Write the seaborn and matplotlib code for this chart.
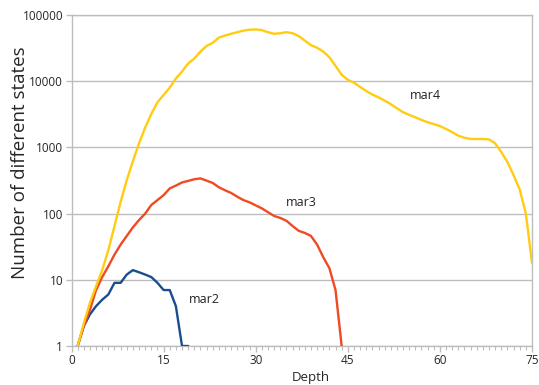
import numpy as np
import pandas as pd
import matplotlib
matplotlib.use("Agg")
import matplotlib.pyplot as plt
import seaborn as sns
from matplotlib.ticker import FixedLocator, MultipleLocator, NullLocator

# ---- data ----
mar2_depth = list(range(1, 20))
mar2_states = [1, 2, 3, 4, 5, 6, 9, 9, 12, 14, 13, 12, 11, 9, 7, 7, 4, 1, 1]

mar3_depth = list(range(1, 45))
mar3_states = [1, 2, 3.5, 7, 11, 16, 24, 34, 46, 62, 80, 100, 135, 160, 190,
               240, 265, 295, 312, 330, 340, 315, 290, 250, 225, 205, 180, 160,
               148, 133, 120, 105, 92, 86, 78, 65, 55, 51, 46, 34, 22, 15, 7, 1]

mar4_depth = list(range(1, 76))
mar4_states = [1, 2.2, 4.5, 8, 14, 28, 65, 150, 320, 620, 1150, 2000, 3200,
               4800, 6200, 8000, 11000, 14000, 18500, 22000, 28000, 34000,
               38000, 45500, 49000, 52000, 55000, 58000, 60000, 60500, 59000,
               55000, 52000, 53000, 55000, 53000, 48000, 41000, 35000, 32000,
               28000, 23000, 17000, 12500, 10500, 9500, 8200, 7100, 6300, 5700,
               5100, 4500, 3900, 3400, 3100, 2850, 2600, 2400, 2250, 2100, 1900,
               1700, 1500, 1400, 1340, 1340, 1340, 1320, 1150, 850, 600, 380,
               230, 100, 18]

series_names = ["mar2", "mar3", "mar4"]
series_colors = ["#1a4d8f", "#f04a23", "#ffcc11"]
x_ticks = [0, 15, 30, 45, 60, 75]
y_ticks = [1, 10, 100, 1000, 10000, 100000]
y_tick_labels = ["1", "10", "100", "1000", "10000", "100000"]

frames = []
for name, d, s in [("mar2", mar2_depth, mar2_states),
                   ("mar3", mar3_depth, mar3_states),
                   ("mar4", mar4_depth, mar4_states)]:
    frames.append(pd.DataFrame({"Depth": d, "States": s, "series": name}))
df = pd.concat(frames, ignore_index=True)

# ---- plot ----
sns.set_style("white")
plt.rcParams["font.family"] = ["Open Sans", "DejaVu Sans"]

fig = plt.figure(figsize=(5.39, 3.85), dpi=100)
ax = fig.add_axes([71.5 / 539, 1 - 346 / 385, (532 - 71.5) / 539, (346 - 15) / 385])

sns.lineplot(data=df, x="Depth", y="States", hue="series",
             hue_order=series_names, palette=series_colors,
             linewidth=1.7, legend=False, ax=ax, zorder=3)

ax.set_yscale("log")
ax.set_xlim(0, 75)
ax.set_ylim(1, 100000)

ax.yaxis.set_major_locator(FixedLocator(y_ticks))
ax.set_yticklabels(y_tick_labels)
ax.yaxis.set_minor_locator(NullLocator())
ax.xaxis.set_major_locator(FixedLocator(x_ticks))
ax.xaxis.set_minor_locator(MultipleLocator(1))

grid_col = "#bdbdbd"
ax.grid(axis="y", which="major", color=grid_col, linewidth=1.0, zorder=0)
ax.grid(axis="x", visible=False)
for sp in ax.spines.values():
    sp.set_color(grid_col)
    sp.set_linewidth(1.0)

ax.tick_params(axis="y", which="major", length=4, width=1, color=grid_col,
               direction="out", labelsize=8.5, pad=2, left=True)
ax.tick_params(axis="x", which="major", length=4, width=1, color=grid_col,
               direction="out", labelsize=8.5, pad=2, bottom=True)
ax.tick_params(axis="x", which="minor", length=3, width=0.8, color=grid_col,
               direction="out", bottom=True)

ax.set_xlabel("Depth", fontsize=9.5)
ax.set_ylabel("Number of different states", fontsize=13.5)
ax.xaxis.set_label_coords(0.52, -0.075)
ax.yaxis.set_label_coords(-0.092, 0.554)

ax.text(21.7, 5.1, "mar2", fontsize=9, ha="center", va="center", color="#222222")
ax.text(37.5, 145, "mar3", fontsize=9, ha="center", va="center", color="#222222")
ax.text(57.6, 6000, "mar4", fontsize=9, ha="center", va="center", color="#222222")

fig.savefig("out.png", dpi=100)
